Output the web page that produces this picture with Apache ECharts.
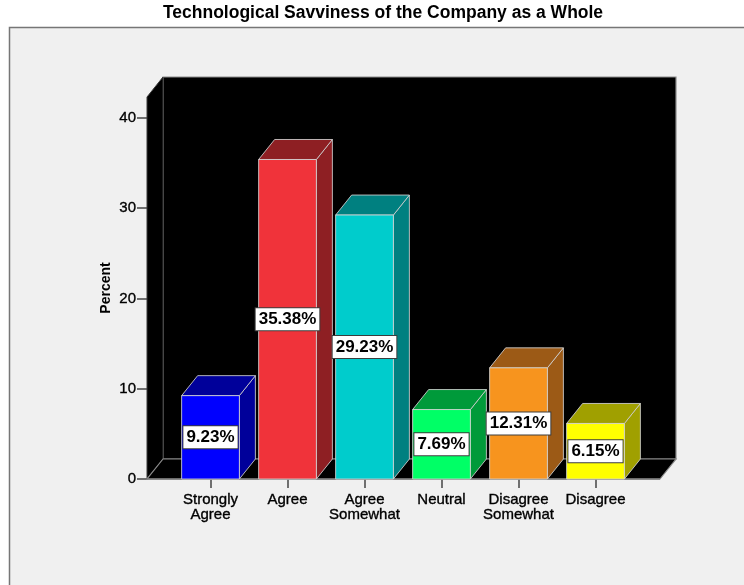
<!DOCTYPE html>
<html>
<head>
<meta charset="utf-8">
<title>Technological Savviness of the Company as a Whole</title>
<script src="https://cdn.jsdelivr.net/npm/echarts@6/dist/echarts.min.js"></script>
<style>
  html, body { margin: 0; padding: 0; background: #ffffff; }
  #chart { width: 744px; height: 585px; }
</style>
</head>
<body>
<div id="chart"></div>
<script>
// Survey responses: share of respondents per answer (percent)
const categories = ['Strongly\nAgree', 'Agree', 'Agree\nSomewhat', 'Neutral', 'Disagree\nSomewhat', 'Disagree'];
const percents = [9.23, 35.38, 29.23, 7.69, 12.31, 6.15];
const yTicks = [0, 10, 20, 30, 40];

// Face colours for each bar: front, shaded side/top
const frontColors = ['#0000ff', '#f0333a', '#00cccc', '#00ff66', '#f7941e', '#ffff00'];
const shadeColors = ['#00009a', '#8e1f23', '#008080', '#009a3a', '#9c5a16', '#a0a000'];

// Layout
const FONT = "'Liberation Sans', Arial, Helvetica, sans-serif";
const GRID = { left: 172, right: 110, top: 97, bottom: 106 };
const PAD_L = 25, PAD_R = 26;      // floor / walls extend past the category band
const DX = 16, DY = -20;           // 3D depth offset
const BAR_FRAC = 0.75;

const chart = echarts.init(document.getElementById('chart'), null, { renderer: 'canvas' });

// Back wall, left wall and floor of the 3D box
function renderFrame(params, api) {
  const cs = params.coordSys;
  const xl = cs.x - PAD_L, xr = cs.x + cs.width + PAD_R;
  const yTop = cs.y, yBot = cs.y + cs.height;
  const edge = { stroke: '#8a8a8a', lineWidth: 1.2 };
  return {
    type: 'group',
    children: [
      { type: 'rect', shape: { x: xl + DX, y: yTop + DY, width: xr - xl, height: yBot - yTop },
        style: Object.assign({ fill: '#000' }, edge) },
      { type: 'polygon', shape: { points: [[xl, yTop], [xl + DX, yTop + DY], [xl + DX, yBot + DY], [xl, yBot]] },
        style: { fill: '#000', stroke: '#3a3a3a', lineWidth: 1 } },
      { type: 'polygon', shape: { points: [[xl, yBot], [xr, yBot], [xr + DX, yBot + DY], [xl + DX, yBot + DY]] },
        style: Object.assign({ fill: '#000' }, edge) },
      { type: 'line', shape: { x1: xl, y1: yBot, x2: xr, y2: yBot }, style: { stroke: '#7a7a7a', lineWidth: 1.5 } }
    ]
  };
}

// One 3D bar: front face, right side, top, and a boxed value label
function renderBar(params, api) {
  const idx = api.value(0);
  const val = api.value(1);
  const top = api.coord([idx, val]);
  const base = api.coord([idx, 0]);
  const band = api.size([1, 0])[0];
  const w = band * BAR_FRAC;
  const x0 = top[0] - w / 2, x1 = top[0] + w / 2;
  const yT = top[1], yB = base[1];
  const line = { stroke: 'rgba(210,210,210,0.85)', lineWidth: 1 };
  const i = params.dataIndex;
  return {
    type: 'group',
    children: [
      { type: 'polygon', shape: { points: [[x1, yT], [x1 + DX, yT + DY], [x1 + DX, yB + DY], [x1, yB]] },
        style: Object.assign({ fill: shadeColors[i] }, line) },
      { type: 'polygon', shape: { points: [[x0, yT], [x0 + DX, yT + DY], [x1 + DX, yT + DY], [x1, yT]] },
        style: Object.assign({ fill: shadeColors[i] }, line) },
      { type: 'rect', shape: { x: x0, y: yT, width: w, height: yB - yT },
        style: Object.assign({ fill: frontColors[i] }, line) },
      { type: 'text', x: top[0], y: (yT + yB) / 2,
        style: {
          text: val.toFixed(2) + '%',
          font: 'bold 17px ' + FONT,
          fill: '#000',
          align: 'center', verticalAlign: 'middle',
          backgroundColor: '#ffffff', borderColor: '#3c3c3c', borderWidth: 1,
          padding: [3, 3, 2, 3]
        } }
    ]
  };
}

const option = {
  animation: false,
  backgroundColor: '#ffffff',
  textStyle: { fontFamily: FONT },
  graphic: [
    { type: 'rect', z: -10, shape: { x: 9.5, y: 27.5, width: 800, height: 600 },
      style: { fill: '#f0f0f0', stroke: '#767676', lineWidth: 1.5 } },
    { type: 'text', z: 10, x: 383, y: 4,
      style: { text: 'Technological Savviness of the Company as a Whole', font: 'bold 17.5px ' + FONT,
               fill: '#000', align: 'center', verticalAlign: 'top' } }
  ],
  grid: GRID,
  xAxis: {
    type: 'category',
    data: categories,
    boundaryGap: true,
    axisLine: { show: false },
    axisTick: { show: true, alignWithLabel: true, length: 9, lineStyle: { color: '#444', width: 1.5 } },
    axisLabel: { color: '#000', fontSize: 15, lineHeight: 15, margin: 13, fontFamily: FONT, interval: 0,
                 textBorderColor: '#000', textBorderWidth: 0.35 },
    splitLine: { show: false }
  },
  yAxis: {
    type: 'value',
    min: 0,
    max: 42.3,
    offset: PAD_L,
    name: 'Percent',
    nameLocation: 'middle',
    nameRotate: 90,
    nameGap: 34,
    nameMoveOverlap: false,
    nameTextStyle: { fontSize: 14, fontWeight: 'bold', color: '#000', fontFamily: FONT },
    axisLine: { show: true, lineStyle: { color: '#2a2a2a', width: 1 } },
    axisTick: { show: true, length: 10, customValues: yTicks, lineStyle: { color: '#444', width: 1.5 } },
    axisLabel: { customValues: yTicks, color: '#000', fontSize: 15, margin: 11, fontFamily: FONT,
                 textBorderColor: '#000', textBorderWidth: 0.35 },
    splitLine: { show: false }
  },
  series: [
    { type: 'custom', name: 'frame', z: 1, silent: true, data: [[0, 0]], renderItem: renderFrame },
    { type: 'custom', name: 'Percent', z: 2, data: percents.map((v, i) => [i, v]), renderItem: renderBar }
  ]
};

chart.setOption(option);
</script>
</body>
</html>
